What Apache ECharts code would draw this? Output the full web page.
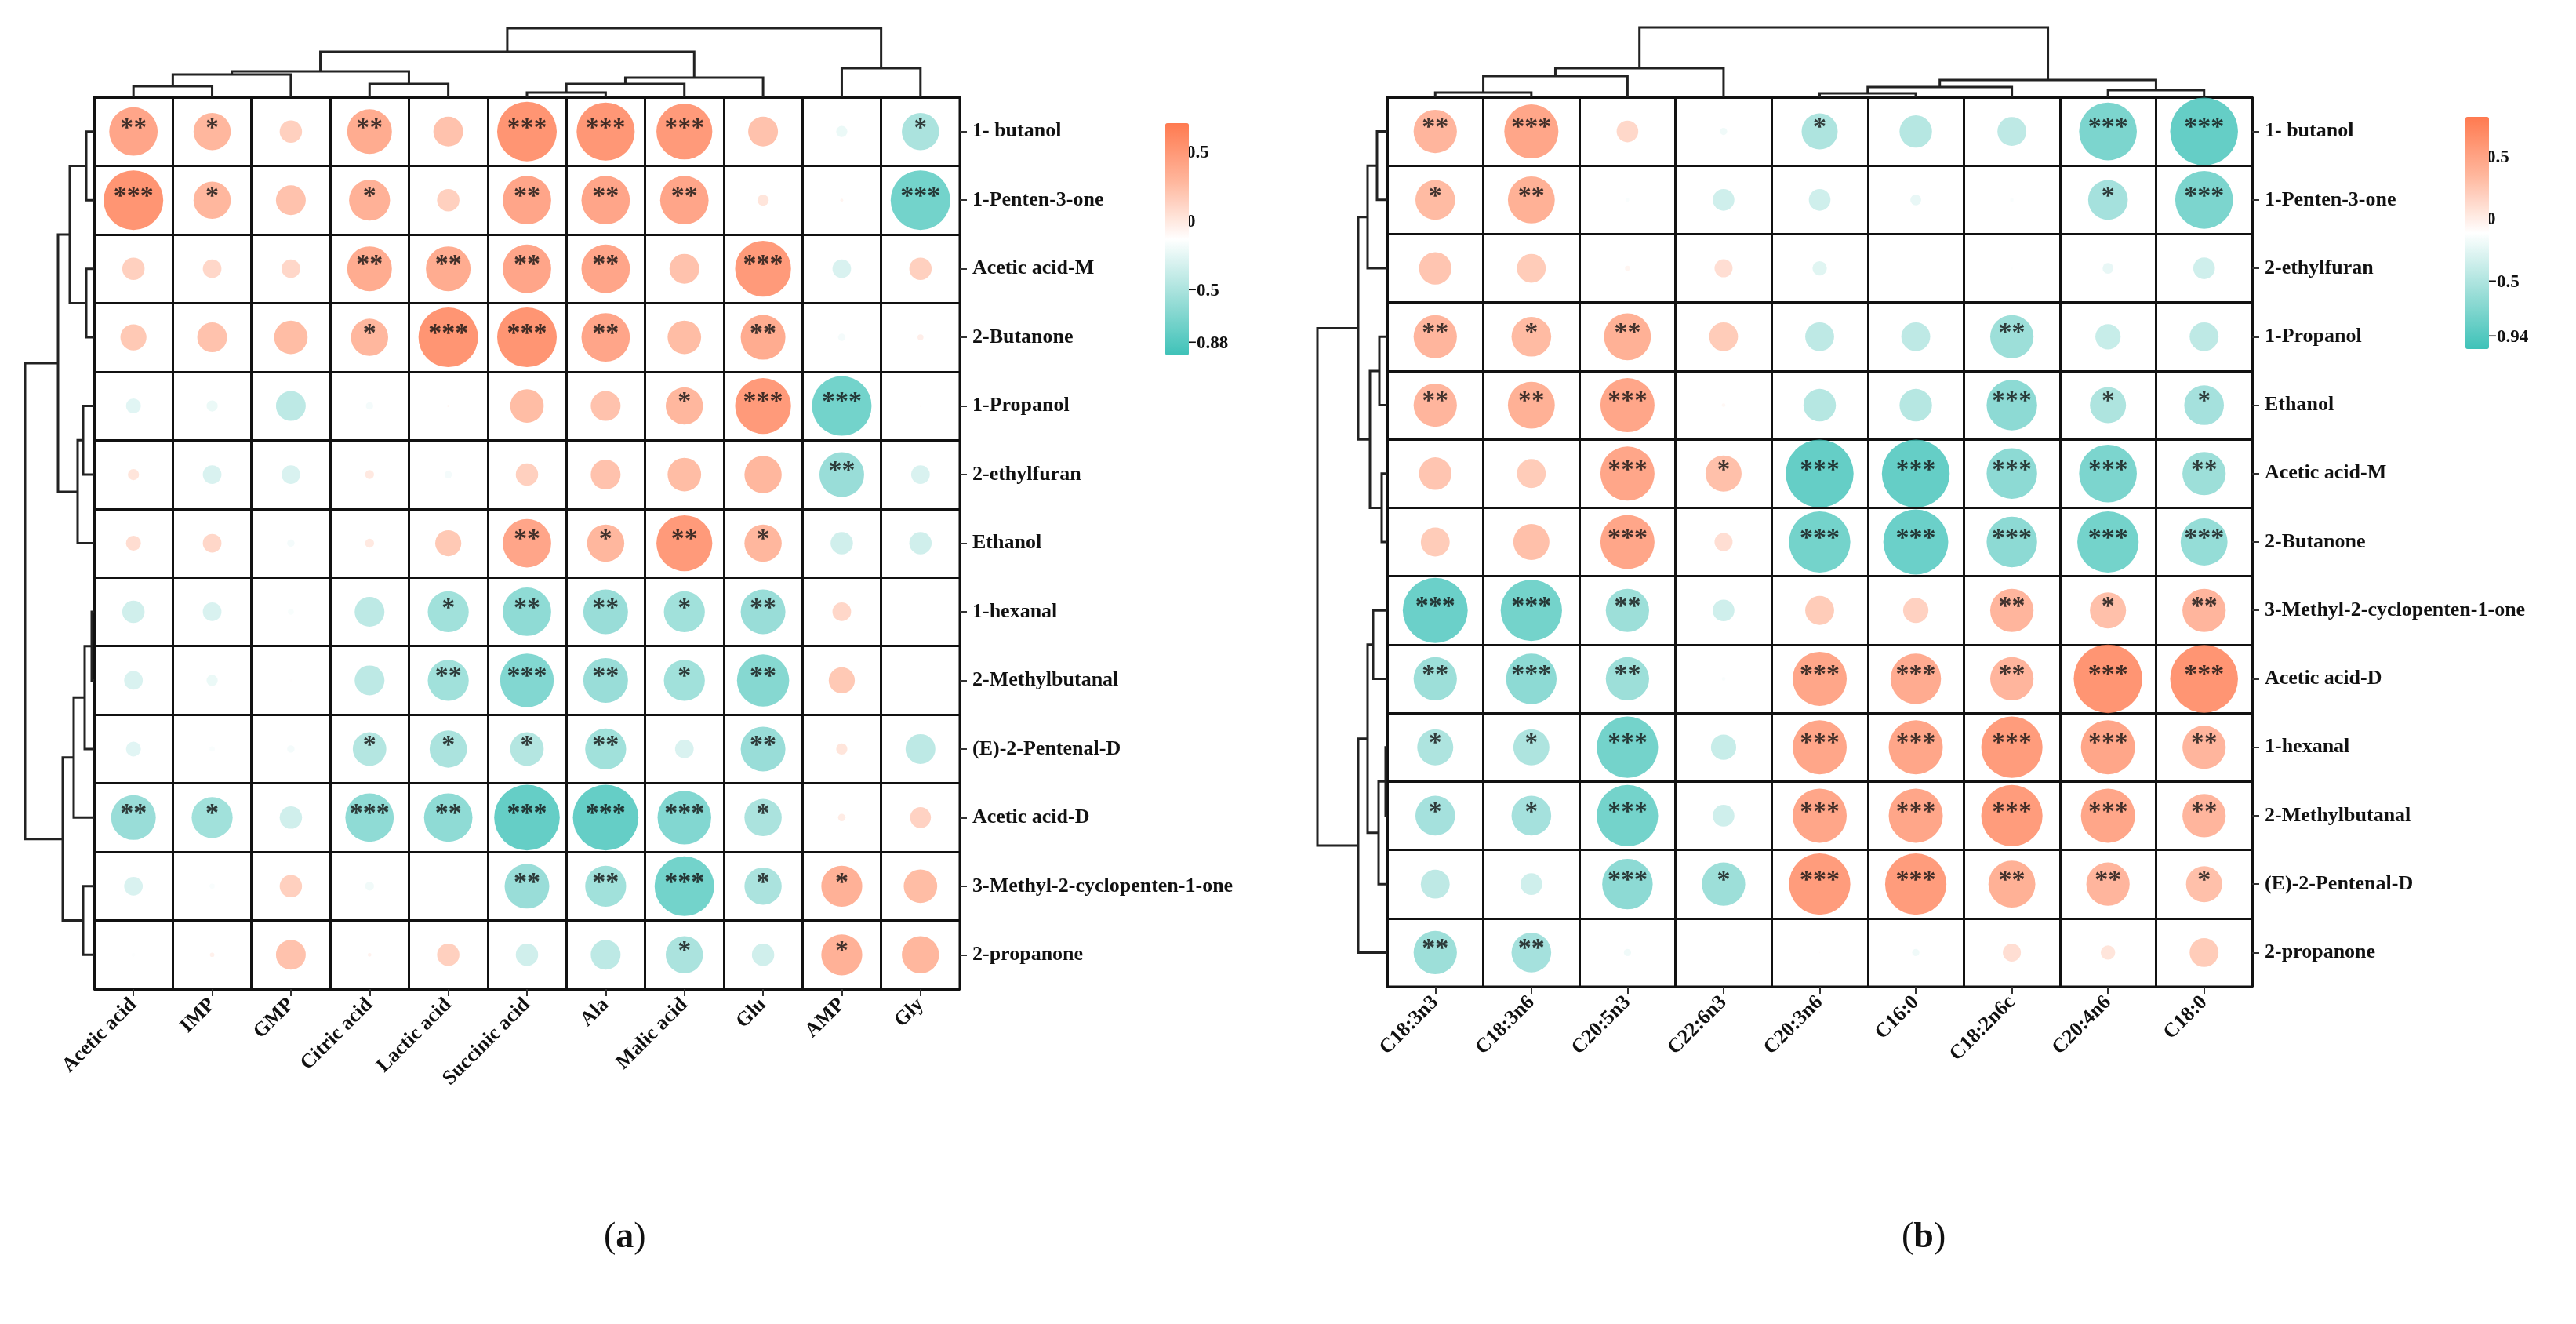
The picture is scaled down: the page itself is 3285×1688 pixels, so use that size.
<!DOCTYPE html>
<html><head><meta charset="utf-8">
<script src="https://cdn.jsdelivr.net/npm/echarts@6/dist/echarts.min.js"></script>
<style>html,body{margin:0;padding:0;background:#fff}#c{width:3285px;height:1688px}</style>
</head><body><div id="c"></div>
<script>
// ---------- Panel (a) ----------
const aCols = ['Acetic acid','IMP','GMP','Citric acid','Lactic acid','Succinic acid','Ala','Malic acid','Glu','AMP','Gly'];
const aRows = ['1- butanol','1-Penten-3-one','Acetic acid-M','2-Butanone','1-Propanol','2-ethylfuran','Ethanol','1-hexanal','2-Methylbutanal','(E)-2-Pentenal-D','Acetic acid-D','3-Methyl-2-cyclopenten-1-one','2-propanone'];
const aVals = [
 [0.65,0.5,0.3,0.6,0.4,0.8,0.78,0.75,0.4,-0.15,-0.5],
 [0.8,0.5,0.4,0.55,0.3,0.65,0.65,0.65,0.15,0.04,-0.8],
 [0.3,0.25,0.25,0.6,0.6,0.65,0.65,0.4,0.75,-0.25,0.3],
 [0.35,0.4,0.45,0.5,0.8,0.8,0.65,0.45,0.6,-0.1,0.08],
 [-0.2,-0.15,-0.4,-0.1,0.03,0.45,0.4,0.5,0.75,-0.8,0.02],
 [0.15,-0.25,-0.25,0.12,-0.1,0.3,0.4,0.45,0.5,-0.6,-0.25],
 [0.2,0.25,-0.1,0.12,0.35,0.65,0.5,0.75,0.5,-0.3,-0.3],
 [-0.3,-0.25,-0.08,-0.4,-0.55,-0.65,-0.6,-0.55,-0.6,0.25,0.0],
 [-0.25,-0.15,-0.03,-0.4,-0.55,-0.72,-0.6,-0.55,-0.7,0.35,0.0],
 [-0.2,-0.07,-0.1,-0.45,-0.5,-0.45,-0.55,-0.25,-0.6,0.15,-0.4],
 [-0.6,-0.55,-0.3,-0.65,-0.65,-0.88,-0.88,-0.72,-0.5,0.1,0.28],
 [-0.25,-0.07,0.3,-0.12,0.0,-0.6,-0.55,-0.8,-0.5,0.55,0.45],
 [-0.05,0.06,0.4,0.05,0.3,-0.3,-0.4,-0.5,-0.3,0.55,0.5]
];
const aStars = [
 ['**','*','','**','','***','***','***','','','*'],
 ['***','*','','*','','**','**','**','','','***'],
 ['','','','**','**','**','**','','***','',''],
 ['','','','*','***','***','**','','**','',''],
 ['','','','','','','','*','***','***',''],
 ['','','','','','','','','','**',''],
 ['','','','','','**','*','**','*','',''],
 ['','','','','*','**','**','*','**','',''],
 ['','','','','**','***','**','*','**','',''],
 ['','','','*','*','*','**','','**','',''],
 ['**','*','','***','**','***','***','***','*','',''],
 ['','','','','','**','**','***','*','*',''],
 ['','','','','','','','*','','*','']
];
const aRange = [-0.88, 0.80];
const aTicks = [-0.88, -0.5, 0, 0.5];
// merges: [childA, childB, height]; child >=0 leaf index, negative = -(merge number, 1-based)
const aColMerges = [[0,1,14],[-1,2,29],[3,4,17],[5,6,6],[-4,7,17],[-5,8,25],[-2,-3,33],[-7,-6,58],[9,10,37],[-8,-9,88]];
const aRowMerges = [[0,1,10],[2,3,10],[-1,-2,31],[4,5,14],[-4,6,21],[-3,-5,46],[7,8,3],[-7,9,12],[-8,10,26],[11,12,14],[-9,-10,40],[-6,-11,88]];

// ---------- Panel (b) ----------
const bCols = ['C18:3n3','C18:3n6','C20:5n3','C22:6n3','C20:3n6','C16:0','C18:2n6c','C20:4n6','C18:0'];
const bRows = ['1- butanol','1-Penten-3-one','2-ethylfuran','1-Propanol','Ethanol','Acetic acid-M','2-Butanone','3-Methyl-2-cyclopenten-1-one','Acetic acid-D','1-hexanal','2-Methylbutanal','(E)-2-Pentenal-D','2-propanone'];
const bVals = [
 [0.6,0.75,0.3,-0.1,-0.5,-0.45,-0.4,-0.8,-0.94],
 [0.55,0.65,-0.05,-0.3,-0.3,-0.15,-0.05,-0.55,-0.8],
 [0.45,0.4,0.07,0.25,-0.2,0.0,-0.03,-0.15,-0.3],
 [0.6,0.55,0.65,0.4,-0.4,-0.4,-0.6,-0.35,-0.4],
 [0.6,0.65,0.75,0.05,-0.45,-0.45,-0.7,-0.5,-0.55],
 [0.45,0.4,0.75,0.5,-0.94,-0.94,-0.7,-0.8,-0.6],
 [0.4,0.5,0.75,0.25,-0.85,-0.9,-0.7,-0.85,-0.65],
 [-0.9,-0.85,-0.6,-0.3,0.4,0.35,0.6,0.5,0.6],
 [-0.6,-0.7,-0.6,-0.05,0.75,0.7,0.6,0.95,0.94],
 [-0.5,-0.5,-0.85,-0.35,0.75,0.75,0.85,0.75,0.6],
 [-0.55,-0.55,-0.85,-0.3,0.75,0.75,0.85,0.75,0.6],
 [-0.4,-0.3,-0.7,-0.6,0.85,0.85,0.65,0.6,0.5],
 [-0.6,-0.55,-0.1,0.0,0.02,-0.1,0.25,0.2,0.4]
];
const bStars = [
 ['**','***','','','*','','','***','***'],
 ['*','**','','','','','','*','***'],
 ['','','','','','','','',''],
 ['**','*','**','','','','**','',''],
 ['**','**','***','','','','***','*','*'],
 ['','','***','*','***','***','***','***','**'],
 ['','','***','','***','***','***','***','***'],
 ['***','***','**','','','','**','*','**'],
 ['**','***','**','','***','***','**','***','***'],
 ['*','*','***','','***','***','***','***','**'],
 ['*','*','***','','***','***','***','***','**'],
 ['','','***','*','***','***','**','**','*'],
 ['**','**','','','','','','','']
];
const bRange = [-0.94, 0.92];
const bTicks = [-0.94, -0.5, 0, 0.5];
const bColMerges = [[0,1,6],[-1,2,27],[-2,3,37],[4,5,5],[-4,6,13],[7,8,9],[-5,-6,22],[-3,-7,89]];
const bRowMerges = [[0,1,13],[-1,2,25],[3,4,10],[5,6,7],[-3,-4,22],[-2,-5,37],[7,8,18],[9,10,2],[-8,11,11],[-7,-9,25],[-10,12,37],[-6,-11,89]];

// ---------- helpers ----------
const FONT = '"Liberation Serif","DejaVu Serif",serif';
const TEAL = '#3EC2B8', CORAL = '#FF7A50';
function dendroData(merges){
  const pos = [], hts = [];
  return merges.map(m => {
    const p = c => c >= 0 ? c : pos[-c-1];
    const h = c => c >= 0 ? 0 : hts[-c-1];
    const p1 = p(m[0]), p2 = p(m[1]), h1 = h(m[0]), h2 = h(m[1]);
    pos.push((p1+p2)/2); hts.push(m[2]);
    return [p1, p2, h1, h2, m[2]];
  });
}
function dendroSeries(xi, yi, merges, horizontal){
  return {
    type:'custom', xAxisIndex:xi, yAxisIndex:yi, silent:true,
    data: dendroData(merges),
    renderItem(params, api){
      const p1=api.value(0), p2=api.value(1), h1=api.value(2), h2=api.value(3), h=api.value(4);
      const c = horizontal ? (pp,hh)=>api.coord([hh,pp]) : (pp,hh)=>api.coord([pp,hh]);
      return {type:'polyline', shape:{points:[c(p1,h1),c(p1,h),c(p2,h),c(p2,h2)]},
        style:{stroke:'#222', lineWidth:3, fill:null}};
    }
  };
}
function cellData(vals){
  const d=[]; vals.forEach((row,yi)=>row.forEach((v,xi)=>d.push([xi,yi,v]))); return d;
}

const grids = [], xAxes = [], yAxes = [], series = [], visualMaps = [];
function panel(cfg){
  const g0 = grids.length;
  // heatmap grid
  grids.push({left:cfg.left, top:124, width:cfg.width, height:cfg.height, show:true, borderColor:'#111', borderWidth:3, backgroundColor:'transparent'});
  xAxes.push({type:'category', gridIndex:g0, data:cfg.cols, boundaryGap:true,
    axisLine:{show:false}, axisTick:{show:true, alignWithLabel:true, length:9, lineStyle:{color:'#333',width:2}},
    splitLine:{show:true, lineStyle:{color:'#111', width:3}},
    axisLabel:{interval:0, rotate:45, margin:16, fontFamily:FONT, fontWeight:'bold', fontSize:26, color:'#111'}});
  yAxes.push({type:'category', gridIndex:g0, data:cfg.rows, inverse:true, position:'right', boundaryGap:true,
    axisLine:{show:false}, axisTick:{show:true, alignWithLabel:true, length:9, lineStyle:{color:'#333',width:2}},
    splitLine:{show:true, lineStyle:{color:'#111', width:3}},
    axisLabel:{interval:0, margin:16, fontFamily:FONT, fontWeight:'bold', fontSize:26, color:'#111'}});
  const sIdx = series.length;
  series.push({type:'scatter', xAxisIndex:xAxes.length-1, yAxisIndex:yAxes.length-1,
    data:cellData(cfg.vals), symbol:'circle',
    symbolSize: v => Math.abs(v[2])*cfg.scale,
    label:{show:true, position:'inside', offset:[0,-4], color:'#111', fontSize:34, fontWeight:'bold', fontFamily:FONT,
      formatter: p => cfg.stars[p.value[1]][p.value[0]]},
    emphasis:{disabled:true}});
  visualMaps.push({type:'continuous', seriesIndex:sIdx, dimension:2, min:cfg.range[0], max:cfg.range[1],
    left:cfg.barX, top:cfg.barY, itemWidth:30, itemHeight:cfg.barH, calculable:false, text:null, showLabel:false,
    inRange:{color:[TEAL,'#9fdfd9','#ffffff','#ffb69c',CORAL]}, textStyle:{color:'transparent'}});
  // colorbar tick axis
  const g1 = grids.length;
  grids.push({left:cfg.barX+29, top:cfg.barY, width:1, height:cfg.barH});
  xAxes.push({type:'value', gridIndex:g1, show:false});
  yAxes.push({type:'value', gridIndex:g1, position:'right', min:cfg.range[0], max:cfg.range[1],
    axisLine:{show:false}, splitLine:{show:false},
    axisTick:{show:true, length:8, lineStyle:{color:'#555', width:2}, customValues:cfg.ticks},
    axisLabel:{show:true, margin:12, customValues:cfg.ticks, fontFamily:FONT, fontWeight:'bold', fontSize:23, color:'#111',
      formatter: v => v < 0 ? '\u2212' + String(Math.abs(v)) : String(v)}});
  // column dendrogram
  const g2 = grids.length;
  grids.push({left:cfg.left, top:24, width:cfg.width, height:100});
  xAxes.push({type:'value', gridIndex:g2, show:false, min:-0.5, max:cfg.cols.length-0.5});
  yAxes.push({type:'value', gridIndex:g2, show:false, min:0, max:100});
  series.push(dendroSeries(xAxes.length-1, yAxes.length-1, cfg.colMerges, false));
  // row dendrogram
  const g3 = grids.length;
  grids.push({left:cfg.left-100, top:124, width:100, height:cfg.height});
  xAxes.push({type:'value', gridIndex:g3, show:false, min:0, max:100, inverse:true});
  yAxes.push({type:'value', gridIndex:g3, show:false, min:-0.5, max:cfg.rows.length-0.5, inverse:true});
  series.push(dendroSeries(xAxes.length-1, yAxes.length-1, cfg.rowMerges, true));
}
panel({left:120, width:1104, height:1137, cols:aCols, rows:aRows, vals:aVals, stars:aStars, scale:95,
  range:aRange, ticks:aTicks, barX:1471, barY:142, barH:296, colMerges:aColMerges, rowMerges:aRowMerges});
panel({left:1769, width:1103, height:1134, cols:bCols, rows:bRows, vals:bVals, stars:bStars, scale:92,
  range:bRange, ticks:bTicks, barX:3129, barY:134, barH:296, colMerges:bColMerges, rowMerges:bRowMerges});

const chart = echarts.init(document.getElementById('c'), null, {renderer:'canvas'});
chart.setOption({
  animation:false, backgroundColor:'#fff',
  grid:grids, xAxis:xAxes, yAxis:yAxes, series:series, visualMap:visualMaps,
  graphic:[
    {type:'text', left:808-38, top:1555, style:{text:'({b|a})', font:'46px '+FONT, fill:'#111',
      rich:{b:{fontWeight:'bold', fontSize:46, fontFamily:FONT}}}},
    {type:'text', left:2463-38, top:1555, style:{text:'({b|b})', font:'46px '+FONT, fill:'#111',
      rich:{b:{fontWeight:'bold', fontSize:46, fontFamily:FONT}}}}
  ]
});
</script></body></html>
